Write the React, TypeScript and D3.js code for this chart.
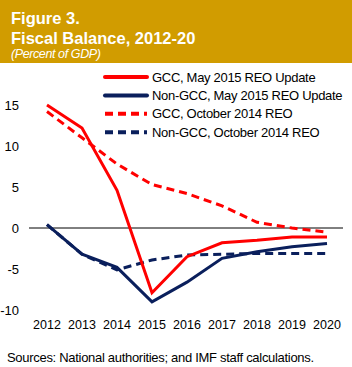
import * as d3 from "d3";

const years = [2012, 2013, 2014, 2015, 2016, 2017, 2018, 2019, 2020];
const gccMay = [15.0, 12.2, 4.6, -7.9, -3.5, -1.8, -1.5, -1.1, -1.1];
const nonGccMay = [0.4, -3.2, -4.8, -9.0, -6.6, -3.7, -2.9, -2.3, -1.9];
const gccOct = [14.2, 11.0, 7.8, 5.3, 4.2, 2.7, 0.7, 0.0, -0.5];
const nonGccOct = [0.4, -3.2, -5.1, -3.9, -3.3, -3.2, -3.1, -3.1, -3.1];
const yTicks = [15, 10, 5, 0, -5, -10];

const RED = "#FF0000";
const NAVY = "#0A1F5C";

const series = [
  { name: "GCC, May 2015 REO Update", values: gccMay, color: RED, dash: "" },
  { name: "Non-GCC, May 2015 REO Update", values: nonGccMay, color: NAVY, dash: "" },
  { name: "GCC, October 2014 REO", values: gccOct, color: RED, dash: "8,5" },
  { name: "Non-GCC, October 2014 REO", values: nonGccOct, color: NAVY, dash: "8,5" },
];

const font = "'Liberation Sans', Arial, sans-serif";

export default function App() {
  const width = 352;
  const height = 367;

  const x = d3.scalePoint<number>().domain(years).range([47, 327]);
  const y = d3.scaleLinear().domain([-10, 15]).range([310, 105]);

  const line = d3
    .line<number>()
    .x((_, i) => x(years[i]) ?? 0)
    .y((d) => y(d));

  return (
    <svg
      width={width}
      height={height}
      style={{ position: "absolute", left: 0, top: 0, background: "#fff" }}
      fontFamily={font}
    >
      <rect x={0} y={0} width={width} height={63} fill="#D19C00" />
      <text x={11} y={24} fill="#fff" fontSize={16.5} fontWeight="bold">
        Figure 3.
      </text>
      <text x={11} y={43.5} fill="#fff" fontSize={16.5} fontWeight="bold">
        Fiscal Balance, 2012-20
      </text>
      <text x={11} y={57.5} fill="#fff" fontSize={12.5} fontStyle="italic" letterSpacing={-0.4}>
        (Percent of GDP)
      </text>

      {/* zero line */}
      <line x1={29} x2={343} y1={y(0)} y2={y(0)} stroke="#000" strokeWidth={1} />

      {yTicks.map((t) => (
        <text key={t} x={19} y={y(t) + 4.5} textAnchor="end" fontSize={13} fill="#000">
          {t}
        </text>
      ))}
      {years.map((yr) => (
        <text key={yr} x={x(yr)} y={329} textAnchor="middle" fontSize={12.5} fill="#000">
          {yr}
        </text>
      ))}

      {series
        .slice()
        .reverse()
        .map((s) => (
          <path
            key={s.name}
            d={line(s.values) ?? ""}
            fill="none"
            stroke={s.color}
            strokeWidth={3}
            strokeDasharray={s.dash}
          />
        ))}

      {series.map((s, i) => {
        const ly = 81.5 + i * 18.4;
        return (
          <g key={s.name}>
            <line
              x1={105}
              x2={147}
              y1={ly - 4.5}
              y2={ly - 4.5}
              stroke={s.color}
              strokeWidth={4}
              strokeDasharray={s.dash ? "8,5" : ""}
              strokeLinecap={s.dash ? "butt" : "round"}
            />
            <text x={152} y={ly} fontSize={13} fill="#000" letterSpacing={-0.3}>
              {s.name}
            </text>
          </g>
        );
      })}

      <text x={7} y={361.5} fontSize={13} fill="#000" letterSpacing={-0.3}>
        Sources: National authorities; and IMF staff calculations.
      </text>
    </svg>
  );
}
